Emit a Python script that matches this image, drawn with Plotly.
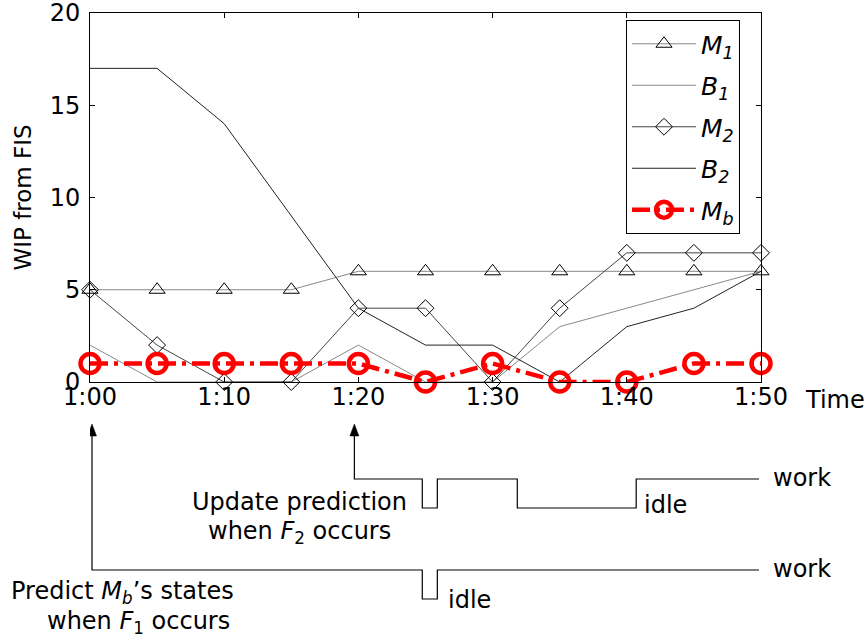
import plotly.graph_objects as go

# ---------------- data ----------------
minutes = [0, 5, 10, 15, 20, 25, 30, 35, 40, 45, 50]
M1 = [5, 5, 5, 5, 6, 6, 6, 6, 6, 6, 6]
B1 = [2, 0, 0, 0, 2, 0, 0, 3, 4, 5, 6]
M2 = [5, 2, 0, 0, 4, 4, 0, 4, 7, 7, 7]
B2 = [17, 17, 14, 9, 4, 2, 2, 0, 3, 4, 6]
Mb = [1, 1, 1, 1, 1, 0, 1, 0, 0, 1, 1]

xtick_vals = [0, 10, 20, 30, 40, 50]
xtick_text = ["1:00", "1:10", "1:20", "1:30", "1:40", "1:50"]
ytick_vals = [0, 5, 10, 15, 20]

# timeline diagram (time in minutes, state)
F1_time = 0.15
F2_time = 19.7
lower_timeline = [(F1_time, "work"), (24.76, "idle"), (25.88, "work"), (49.85, "end")]
upper_timeline = [(F2_time, "work"), (24.76, "idle"), (25.88, "work"),
                  (31.84, "idle"), (40.7, "work"), (49.85, "end")]

FONT = "DejaVu Sans"

# ---------------- layout geometry (pixels) ----------------
W, H = 867, 639
ML, MR, MT, MB = 90, 106, 13, 257
PW = W - ML - MR
PH = H - MT - MB


def yp(py):
    return (H - MB - py) / PH


def xp(px):
    return (px - ML) / PW


px_per_min = PW / 50.0

fig = go.Figure()

common = dict(x=minutes, mode="lines+markers", cliponaxis=False)
fig.add_trace(go.Scatter(y=M1, name="<i>M<sub>1</sub></i>", legendgroup="a",
                         line=dict(color="#888888", width=1),
                         marker=dict(symbol="triangle-up-open", size=14,
                                     color="black", line=dict(width=1)),
                         **common))
fig.add_trace(go.Scatter(x=minutes, y=B1, mode="lines", name="<i>B<sub>1</sub></i>",
                         legendgroup="b", line=dict(color="#888888", width=1)))
fig.add_trace(go.Scatter(y=M2, name="<i>M<sub>2</sub></i>", legendgroup="c",
                         line=dict(color="#444444", width=1),
                         marker=dict(symbol="diamond-open", size=13,
                                     color="black", line=dict(width=1)),
                         **common))
fig.add_trace(go.Scatter(x=minutes, y=B2, mode="lines", name="<i>B<sub>2</sub></i>",
                         legendgroup="d", line=dict(color="#222222", width=1)))
fig.add_trace(go.Scatter(y=Mb, name="<i>M<sub>b</sub></i>", legendgroup="e",
                         line=dict(color="#ff0000", width=4.5, dash="18px,6px,4px,6px"),
                         marker=dict(symbol="circle-open", size=19,
                                     color="#ff0000", line=dict(width=4.5)),
                         **common))

shapes = []
annotations = []


def timeline_path(tl, y_work, y_idle, arrow_base):
    x0 = tl[0][0]
    d = f"M {x0},{yp(arrow_base)} L {x0},{yp(y_work)}"
    cur = "work"
    for t, state in tl[1:]:
        ycur = y_work if cur == "work" else y_idle
        d += f" L {t},{yp(ycur)}"
        if state in ("work", "idle"):
            ynew = y_work if state == "work" else y_idle
            d += f" L {t},{yp(ynew)}"
            cur = state
    return d


for tl, yw, yi in [(lower_timeline, 570, 599), (upper_timeline, 479, 508)]:
    shapes.append(dict(type="path", xref="x", yref="paper",
                       path=timeline_path(tl, yw, yi, 434),
                       line=dict(color="black", width=1.2)))
    x0 = tl[0][0]
    hw = 4.5 / px_per_min
    shapes.append(dict(type="path", xref="x", yref="paper",
                       path=f"M {x0},{yp(424)} L {x0 - hw},{yp(436)} L {x0 + hw},{yp(436)} Z",
                       fillcolor="black", line=dict(color="black", width=0.5)))

tf = dict(family=FONT, size=24, color="black")


def add_text(text, x, y, anchor="left"):
    annotations.append(dict(text=text, xref="paper", yref="paper", x=xp(x), y=yp(y),
                            xanchor=anchor, yanchor="middle", showarrow=False, font=tf))


add_text("Time", 803, 400)
add_text("work", 771, 478)
add_text("work", 771, 569)
add_text("idle", 642, 505)
add_text("idle", 446, 600)
add_text("Update prediction", 299, 502, "center")
add_text("when <i>F</i><sub>2</sub> occurs", 299, 532, "center")
add_text("Predict <i>M<sub>b</sub></i>’s states", 122, 592, "center")
add_text("when <i>F</i><sub>1</sub> occurs", 138, 622, "center")

axis_common = dict(showline=True, mirror="ticks", linecolor="black", linewidth=1,
                   ticks="inside", ticklen=5, tickcolor="black", showgrid=False,
                   zeroline=False, ticklabeloverflow="allow", automargin=False,
                   tickfont=dict(family=FONT, size=24, color="black"))

fig.update_layout(
    width=W, height=H,
    margin=dict(l=ML, r=MR, t=MT, b=MB, pad=0, autoexpand=False),
    paper_bgcolor="white", plot_bgcolor="white",
    font=dict(family=FONT, color="black"),
    xaxis=dict(range=[0, 50], tickvals=xtick_vals, ticktext=xtick_text,
               ticklabelstandoff=-7, **axis_common),
    yaxis=dict(range=[0, 20], tickvals=ytick_vals, ticklabelstandoff=4,
               title=dict(text="WIP from FIS", font=dict(family=FONT, size=23, color="black"),
                          standoff=11),
               **axis_common),
    legend=dict(x=xp(626), y=yp(20), xanchor="left", yanchor="top",
                bordercolor="black", borderwidth=1, bgcolor="white",
                font=dict(family=FONT, size=25, color="black"),
                itemwidth=64, tracegroupgap=6),
    shapes=shapes,
    annotations=annotations,
)

fig.write_html("out.html")
